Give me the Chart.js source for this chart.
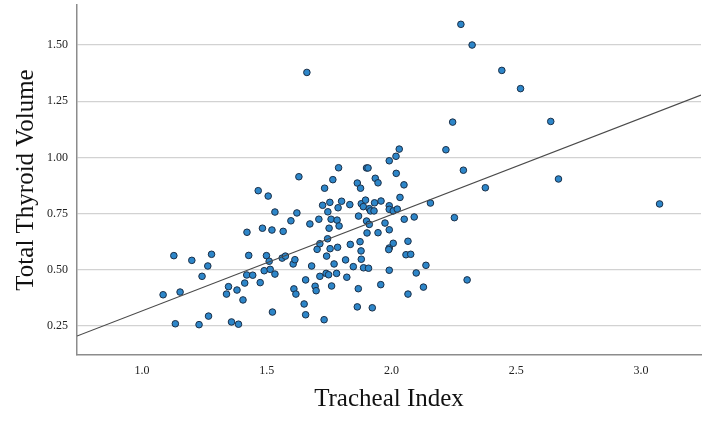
<!DOCTYPE html>
<html>
<head>
<meta charset="utf-8">
<title>Tracheal Index vs Total Thyroid Volume</title>
<script src="https://cdn.jsdelivr.net/npm/chart.js@4.4.1/dist/chart.umd.min.js"></script>
<style>
  body { margin: 0; background: #fff; }
  canvas { display: block; }
</style>
</head>
<body>
<canvas id="scatterChart" width="709" height="427"></canvas>
<script>
// Tracheal index (x) for each subject
const trachealIndex = [
    1.085, 1.128, 1.134, 1.153, 1.200, 1.229, 1.241, 1.264, 1.267, 1.279,
    1.339, 1.347, 1.359, 1.381, 1.387, 1.405, 1.412, 1.420, 1.421, 1.428,
    1.444, 1.466, 1.474, 1.483, 1.490, 1.499, 1.506, 1.510, 1.514, 1.521,
    1.523, 1.533, 1.533, 1.562, 1.566, 1.575, 1.597, 1.606, 1.609, 1.613,
    1.617, 1.621, 1.629, 1.650, 1.656, 1.656, 1.661, 1.673, 1.680, 1.694,
    1.698, 1.702, 1.709, 1.713, 1.713, 1.724, 1.730, 1.732, 1.738, 1.740,
    1.744, 1.745, 1.748, 1.750, 1.753, 1.754, 1.758, 1.760, 1.765, 1.770,
    1.780, 1.782, 1.784, 1.786, 1.788, 1.790, 1.800, 1.816, 1.821, 1.833,
    1.835, 1.847, 1.863, 1.863, 1.867, 1.868, 1.874, 1.876, 1.878, 1.879,
    1.879, 1.887, 1.888, 1.896, 1.900, 1.906, 1.900, 1.902, 1.908, 1.911,
    1.911, 1.916, 1.923, 1.930, 1.932, 1.935, 1.946, 1.946, 1.957, 1.958,
    1.974, 1.991, 1.991, 1.991, 1.991, 1.991, 1.989, 1.991, 2.007, 2.007,
    2.018, 2.019, 2.023, 2.031, 2.034, 2.050, 2.051, 2.058, 2.066, 2.066,
    2.077, 2.091, 2.099, 2.128, 2.138, 2.156, 2.218, 2.245, 2.252, 2.278,
    2.288, 2.303, 2.323, 2.376, 2.442, 2.517, 2.638, 2.669, 3.074
];

// Total thyroid volume (y), same order
const thyroidVolume = [
    0.389, 0.563, 0.260, 0.401, 0.542, 0.256, 0.471, 0.517, 0.294, 0.569,
    0.392, 0.425, 0.268, 0.410, 0.258, 0.366, 0.441, 0.477, 0.667, 0.564,
    0.476, 0.852, 0.443, 0.685, 0.496, 0.563, 0.828, 0.538, 0.502, 0.677,
    0.312, 0.757, 0.481, 0.552, 0.671, 0.561, 0.718, 0.526, 0.415, 0.545,
    0.392, 0.753, 0.914, 0.348, 0.455, 0.300, 1.378, 0.704, 0.517, 0.427,
    0.407, 0.591, 0.725, 0.616, 0.471, 0.787, 0.278, 0.863, 0.484, 0.561,
    0.638, 0.758, 0.478, 0.685, 0.800, 0.594, 0.725, 0.428, 0.901, 0.526,
    0.484, 0.721, 0.600, 0.776, 0.954, 0.695, 0.805, 0.544, 0.467, 0.790,
    0.613, 0.514, 0.886, 0.335, 0.416, 0.739, 0.625, 0.863, 0.584, 0.794,
    0.547, 0.781, 0.509, 0.810, 0.953, 0.953, 0.717, 0.664, 0.507, 0.772,
    0.702, 0.762, 0.331, 0.762, 0.798, 0.907, 0.887, 0.665, 0.434, 0.806,
    0.708, 0.985, 0.785, 0.769, 0.678, 0.597, 0.590, 0.498, 0.762, 0.618,
    1.005, 0.929, 0.770, 1.037, 0.822, 0.878, 0.725, 0.567, 0.627, 0.392,
    0.569, 0.735, 0.486, 0.423, 0.520, 0.797, 1.034, 1.157, 0.732, 1.592,
    0.943, 0.455, 1.500, 0.865, 1.387, 1.306, 1.160, 0.904, 0.793
];

// Axis ticks and ranges
const xTicks = [1.0, 1.5, 2.0, 2.5, 3.0];
const yTicks = [0.25, 0.50, 0.75, 1.00, 1.25, 1.50];
const xRange = [0.74, 3.24];
const yRange = [0.121, 1.678];

// Fit line
const fitIntercept = -0.112;
const fitSlope = 0.4288;

const serif = "'Liberation Serif', 'Times New Roman', serif";

const points = trachealIndex.map((x, i) => ({ x: x, y: thyroidVolume[i] }));
const fitLine = xRange.map(x => ({ x: x, y: fitIntercept + fitSlope * x }));

function fixedTicks(list) {
    return function(scale) {
        scale.ticks = list.map(v => ({ value: v }));
    };
}

// no extra label padding, so the plot area fills the canvas like the original
function noPad(size) {
    return function(scale) {
        if (scale.isHorizontal()) scale.height = size;
        else scale.width = size;
        scale.paddingTop = 0;
        scale.paddingBottom = 0;
        scale.paddingLeft = 0;
        scale.paddingRight = 0;
    };
}

new Chart(document.getElementById('scatterChart').getContext('2d'), {
    type: 'scatter',
    data: {
        datasets: [
            {
                type: 'line',
                data: fitLine,
                borderColor: '#4a4a4a',
                borderWidth: 1.2,
                pointRadius: 0,
                fill: false
            },
            {
                data: points,
                backgroundColor: '#2d86c9',
                borderColor: '#1b2f47',
                borderWidth: 1,
                pointRadius: 3.3
            }
        ]
    },
    options: {
        responsive: false,
        animation: false,
        devicePixelRatio: 1,
        layout: { autoPadding: false, padding: { top: 5, right: 8, left: 0, bottom: 0 } },
        plugins: {
            legend: { display: false },
            tooltip: { enabled: false }
        },
        scales: {
            x: {
                type: 'linear',
                min: xRange[0],
                max: xRange[1],
                afterBuildTicks: fixedTicks(xTicks),
                afterFit: noPad(72),
                grid: { display: false, drawTicks: false },
                border: { display: true, color: '#8c8c8c', width: 1.5 },
                ticks: {
                    padding: 9,
                    color: '#222',
                    font: { family: serif, size: 12 },
                    callback: v => v.toFixed(1)
                },
                title: {
                    display: true,
                    text: 'Tracheal Index',
                    color: '#111',
                    font: { family: serif, size: 25 },
                    padding: { top: 0, bottom: 13 }
                }
            },
            y: {
                type: 'linear',
                min: yRange[0],
                max: yRange[1],
                afterBuildTicks: fixedTicks(yTicks),
                afterFit: noPad(77),
                grid: { color: '#d2d2d2', lineWidth: 1.3, drawTicks: false },
                border: { display: true, color: '#8c8c8c', width: 1.5 },
                ticks: {
                    padding: 9,
                    color: '#222',
                    font: { family: serif, size: 12 },
                    callback: v => v.toFixed(2)
                },
                title: {
                    display: true,
                    text: 'Total Thyroid Volume',
                    color: '#111',
                    font: { family: serif, size: 25 },
                    padding: { top: 11, bottom: 0 }
                }
            }
        }
    }
});
</script>
</body>
</html>
